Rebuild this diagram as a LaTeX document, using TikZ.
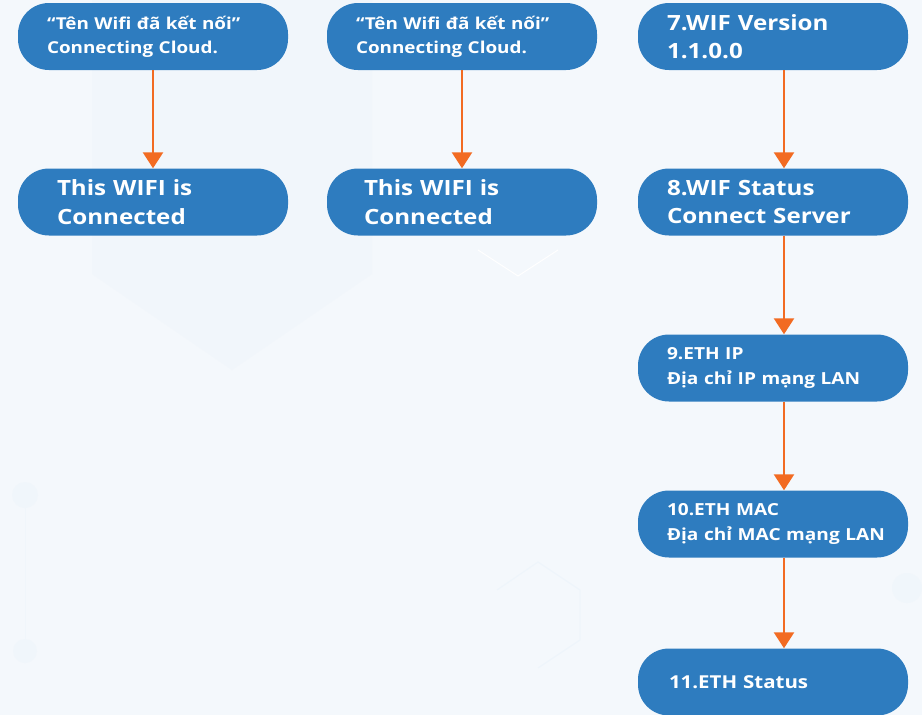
\documentclass[tikz,border=0pt]{standalone}
\usepackage{fontspec}
\setmainfont{Open Sans}[FakeStretch=1.15]
\usetikzlibrary{arrows.meta}
\definecolor{bgc}{HTML}{F4F8FC}
\definecolor{hexc}{HTML}{ECF3FA}
\definecolor{boxblue}{HTML}{2E7CBF}
\definecolor{arrowor}{HTML}{F26B22}
\tikzset{
  pillbox/.style={fill=boxblue, rounded corners=31pt, minimum width=270pt,
    minimum height=67pt, inner ysep=0pt, inner xsep=29pt, text width=212pt,
    align=left, text=white, anchor=center},
  smalltxt/.style={font=\fontsize{16.4}{24}\selectfont\bfseries},
  bigtxt/.style={font=\fontsize{21}{28.5}\selectfont\bfseries},
  midtxt/.style={font=\fontsize{16.6}{25}\selectfont\bfseries},
  widepad/.style={inner xsep=39pt, text width=192pt},
  flowarrow/.style={draw=arrowor, line width=2.5pt, -{Triangle[width=20pt,length=16pt]}}
}
\begin{document}
\begin{tikzpicture}[x=1pt,y=-1pt]
\fill[bgc] (0,0) rectangle (922,715);
\useasboundingbox (0,0) rectangle (922,715);
% faint background decoration
\fill[hexc!40!bgc] (92,0) -- (372,0) -- (372,274) -- (232,370) -- (92,274) -- cycle;
\draw[white, line width=1pt] (478,250) -- (518,276) -- (558,250);
\draw[hexc!70!bgc, line width=1pt] (497,590) -- (538,562) -- (580,590) -- (580,640) -- (538,668);
\fill[hexc!50!bgc] (25,495) circle (13pt);
\fill[hexc!50!bgc] (25,651) circle (12pt);
\draw[hexc!50!bgc, line width=1pt] (25,508) -- (25,639);
\fill[hexc!50!bgc] (907,588) circle (15pt);
% column A
\node[pillbox, smalltxt] (a1) at (153,36.5) {\mbox{“Tên Wifi đã kết nối”}\\\mbox{Connecting Cloud.}};
\node[pillbox, bigtxt, widepad] (a2) at (153,202) {This WIFI is\\Connected};
% column B
\node[pillbox, smalltxt] (b1) at (462,36.5) {\mbox{“Tên Wifi đã kết nối”}\\\mbox{Connecting Cloud.}};
\node[pillbox, bigtxt, inner xsep=37pt, text width=196pt] (b2) at (462,202) {This WIFI is\\Connected};
% column C
\node[pillbox, bigtxt] (c1) at (773,36.5) {7.WIF Version\\1.1.0.0};
\node[pillbox, bigtxt] (c2) at (773,202) {8.WIF Status\\\mbox{Connect Server}};
\node[pillbox, midtxt] (c3) at (773,368) {9.ETH IP\\\mbox{Địa chỉ IP mạng LAN}};
\node[pillbox, midtxt] (c4) at (773,524) {10.ETH MAC\\\mbox{Địa chỉ MAC mạng LAN}};
\node[pillbox, font=\fontsize{17.8}{24}\selectfont\bfseries, inner xsep=31pt, text width=208pt] (c5) at (773,682) {11.ETH Status};
% arrows
\draw[flowarrow] (a1.south) -- (a2.north);
\draw[flowarrow] (b1.south) -- (b2.north);
\draw[flowarrow] ([xshift=11pt]c1.south) -- ([xshift=11pt]c2.north);
\draw[flowarrow] ([xshift=11pt]c2.south) -- ([xshift=11pt]c3.north);
\draw[flowarrow] ([xshift=11pt]c3.south) -- ([xshift=11pt]c4.north);
\draw[flowarrow] ([xshift=11pt]c4.south) -- ([xshift=11pt]c5.north);
\end{tikzpicture}
\end{document}
